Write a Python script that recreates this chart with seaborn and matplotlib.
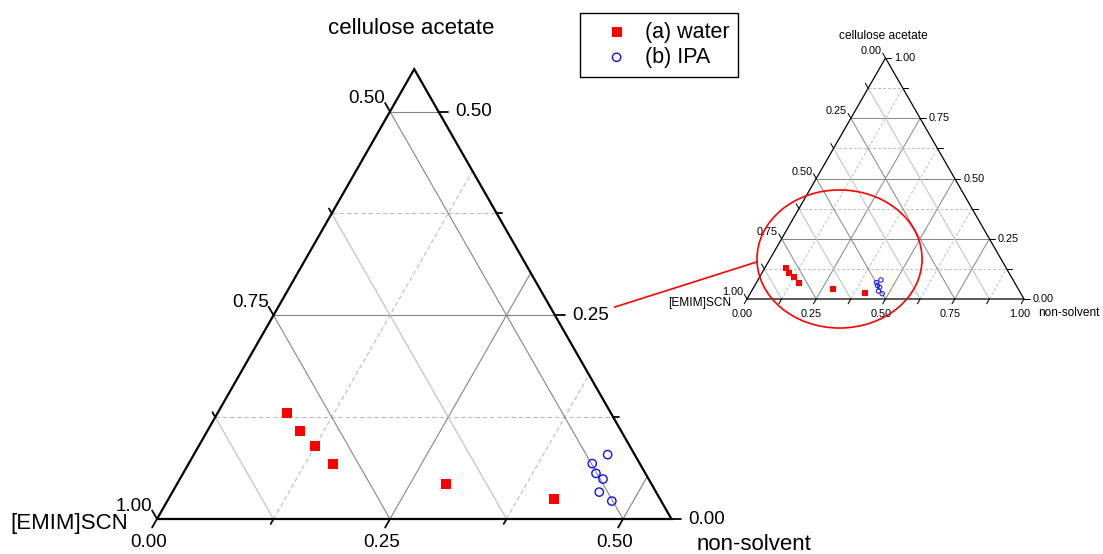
import numpy as np
import pandas as pd
import matplotlib
matplotlib.use("Agg")
import matplotlib.pyplot as plt
import seaborn as sns
from matplotlib.patches import Ellipse, ConnectionPatch

# ---------------- data (mass fractions; [EMIM]SCN = 1 - non-solvent - CA) ----
water_ns = [0.075, 0.099, 0.125, 0.155, 0.289, 0.414]
water_ca = [0.130, 0.108, 0.090, 0.068, 0.043, 0.025]
ipa_ns = [0.444, 0.433, 0.443, 0.454, 0.458, 0.477]
ipa_ca = [0.079, 0.068, 0.056, 0.049, 0.033, 0.022]
series_labels = ["(a) water", "(b) IPA"]

main_ticks = [0.0, 0.125, 0.25, 0.375, 0.5]
inset_ticks = [0.0, 0.125, 0.25, 0.375, 0.5, 0.625, 0.75, 0.875, 1.0]
major_step = 0.25
main_side = 0.552         # zoomed region: [EMIM]SCN >= ~0.45
inset_side = 1.0

sns.set_theme(style="white")
plt.rcParams["font.family"] = ["Liberation Sans", "DejaVu Sans"]
plt.rcParams["text.color"] = "black"

W, H = 1103, 554
fig = plt.figure(figsize=(W / 100, H / 100), dpi=100)


def tern(ns, ca):
    ns = np.asarray(ns, dtype=float)
    ca = np.asarray(ca, dtype=float)
    return ns + ca / 2.0, ca


def is_major(v):
    return abs(v / major_step - round(v / major_step)) < 1e-9


def draw_ternary(ax, side, ticks, lw_edge, lw_grid, tl_major, tl_minor,
                 fs_tick, off_left, off_right, off_bottom, dash):
    c_major, c_minor = "#858585", "#bdbdbd"
    # grid lines
    for v in ticks:
        if v <= 1e-9 or v >= side - 1e-9:
            continue
        maj = is_major(v)
        col = c_major if maj else c_minor
        ls_d = "-" if maj else (0, dash)
        # constant CA
        x, y = tern([0, side - v], [v, v])
        ax.plot(x, y, color=col, lw=lw_grid, linestyle=ls_d, zorder=1)
        # constant non-solvent
        x, y = tern([v, v], [0, side - v])
        ax.plot(x, y, color=col, lw=lw_grid, linestyle=ls_d, zorder=1)
        # constant [EMIM]SCN (always solid)
        x, y = tern([0, v], [v, 0])
        ax.plot(x, y, color=col, lw=lw_grid, linestyle="-", zorder=1)
    # edges
    x, y = tern([0, side, 0, 0], [0, 0, side, 0])
    ax.plot(x, y, color="black", lw=lw_edge, zorder=3, solid_joinstyle="miter")
    # ticks and labels
    for v in ticks:
        t = tl_major if is_major(v) else tl_minor
        lab = is_major(v)
        # left edge: [EMIM]SCN = 1 - v
        x, y = tern([0, -t], [v, v + t])
        ax.plot(x, y, color="black", lw=lw_edge * 0.8, zorder=3)
        if lab:
            ax.annotate(f"{1 - v:.2f}", xy=(x[1], y[1]), xytext=off_left,
                        textcoords="offset points", ha="right", va="center",
                        fontsize=fs_tick)
        # right edge: cellulose acetate = v
        x, y = tern([side - v, side - v + t], [v, v])
        ax.plot(x, y, color="black", lw=lw_edge * 0.8, zorder=3)
        if lab:
            ax.annotate(f"{v:.2f}", xy=(x[1], y[1]), xytext=off_right,
                        textcoords="offset points", ha="left", va="center",
                        fontsize=fs_tick)
        # bottom edge: non-solvent = v
        x, y = tern([v, v], [0, -t])
        ax.plot(x, y, color="black", lw=lw_edge * 0.8, zorder=3)
        if lab:
            ax.annotate(f"{v:.2f}", xy=(x[1], y[1]), xytext=off_bottom,
                        textcoords="offset points", ha="center", va="top",
                        fontsize=fs_tick)


px = 0.72  # pixel -> points

# ---------------- main (zoomed) ternary -------------------------------------
ax = fig.add_axes([0, 0, 1, 1])
ax.set_xlim((0 - 157) / 932, (W - 157) / 932)
ax.set_ylim((519 - H) / 815, 519 / 815)
ax.axis("off")
draw_ternary(ax, main_side, main_ticks, lw_edge=1.6, lw_grid=0.8,
             tl_major=0.0105, tl_minor=0.006, fs_tick=13.5,
             off_left=(0 * px, 4 * px), off_right=(7 * px, 0),
             off_bottom=(-3 * px, -6 * px), dash=(4, 2.5))

wx, wy = tern(water_ns, water_ca)
ix, iy = tern(ipa_ns, ipa_ca)
df_w = pd.DataFrame({"x": wx, "y": wy})
df_i = pd.DataFrame({"x": ix, "y": iy})
sns.scatterplot(data=df_w, x="x", y="y", ax=ax, marker="s", s=46,
                color="#ff0000", linewidth=0, label=series_labels[0], zorder=5)
sns.scatterplot(data=df_i, x="x", y="y", ax=ax, marker="o", s=36,
                facecolors="none", edgecolors="#1010ff", linewidth=1.0,
                label=series_labels[1], zorder=5)
ax.set_xlim((0 - 157) / 932, (W - 157) / 932)
ax.set_ylim((519 - H) / 815, 519 / 815)
ax.set_xlabel("")
ax.set_ylabel("")

ax.annotate("cellulose acetate", xy=tern(0, main_side), xytext=(-3 * px, 41 * px),
            textcoords="offset points", ha="center", va="center", fontsize=16)
ax.annotate("[EMIM]SCN", xy=tern(0, 0), xytext=(-29 * px, -4 * px),
            textcoords="offset points", ha="right", va="center", fontsize=16)
ax.annotate("non-solvent", xy=tern(main_side, 0), xytext=(25 * px, -26 * px),
            textcoords="offset points", ha="left", va="center", fontsize=16)

leg = ax.legend(loc="upper left", bbox_to_anchor=(580 / W, 1 - 13 / H),
                bbox_transform=fig.transFigure, borderaxespad=0,
                frameon=True, fancybox=False, framealpha=1, edgecolor="black",
                fontsize=15.5, handlelength=2.6, handletextpad=0.0,
                labelspacing=0.2, borderpad=0.4)
leg.get_frame().set_linewidth(1.0)

# ---------------- inset (full) ternary --------------------------------------
ax2 = fig.add_axes([0, 0, 1, 1])
ax2.patch.set_alpha(0)
ax2.set_xlim((0 - 747) / 277, (W - 747) / 277)
ax2.set_ylim((299 - H) / 241, 299 / 241)
ax2.axis("off")
draw_ternary(ax2, inset_side, inset_ticks, lw_edge=0.9, lw_grid=0.7,
             tl_major=0.02, tl_minor=0.02, fs_tick=7.8,
             off_left=(-1 * px, 2 * px), off_right=(3 * px, 0),
             off_bottom=(-2 * px, -5 * px), dash=(3, 2))
sns.scatterplot(data=df_w, x="x", y="y", ax=ax2, marker="s", s=13,
                color="#ff0000", linewidth=0, zorder=5, legend=False)
sns.scatterplot(data=df_i, x="x", y="y", ax=ax2, marker="o", s=10,
                facecolors="none", edgecolors="#1010ff", linewidth=0.7,
                zorder=5, legend=False)
ax2.set_xlim((0 - 747) / 277, (W - 747) / 277)
ax2.set_ylim((299 - H) / 241, 299 / 241)
ax2.set_xlabel("")
ax2.set_ylabel("")

ax2.annotate("cellulose acetate", xy=tern(0, 1), xytext=(-2 * px, 22 * px),
             textcoords="offset points", ha="center", va="center", fontsize=8.6)
ax2.annotate("[EMIM]SCN", xy=tern(0, 0), xytext=(-16 * px, -4 * px),
             textcoords="offset points", ha="right", va="center", fontsize=8.6)
ax2.annotate("non-solvent", xy=tern(1, 0), xytext=(14 * px, -14 * px),
             textcoords="offset points", ha="left", va="center", fontsize=8.6)

# zoom ellipse and connector
ell = Ellipse((0.334, 0.166), width=0.596, height=0.573, fill=False,
              edgecolor="#ff0000", lw=1.2, zorder=6)
ax2.add_patch(ell)
con = ConnectionPatch(xyA=(0.491, 0.26), coordsA=ax.transData,
                      xyB=(0.036, 0.154), coordsB=ax2.transData,
                      color="#ff0000", lw=1.2)
fig.add_artist(con)

fig.savefig("out.png", dpi=100)
